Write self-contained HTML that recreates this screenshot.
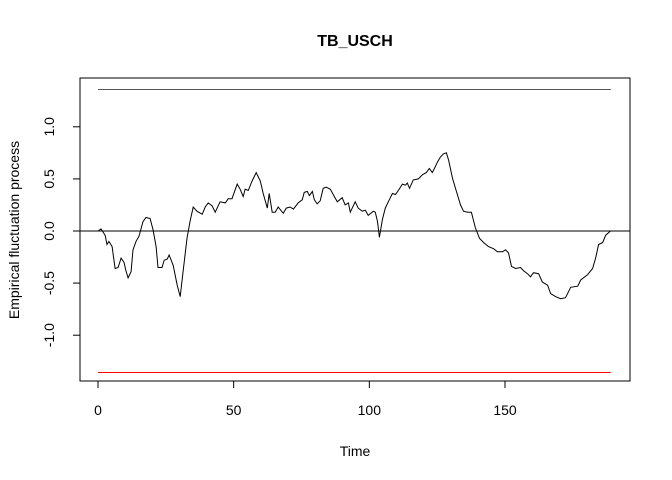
<!DOCTYPE html>
<html><head><meta charset="utf-8"><style>
body{margin:0;background:#fff;}
svg{display:block;font-family:"Liberation Sans",Arial,sans-serif;}
</style></head><body>
<svg id="chart" width="672" height="480" viewBox="0 0 672 480">
<rect width="672" height="480" fill="#fff"/>
<text x="355" y="46" text-anchor="middle" font-weight="bold" font-size="16">TB_USCH</text>
<text x="355" y="456" text-anchor="middle" font-size="14">Time</text>
<text transform="translate(19,230) rotate(-90)" text-anchor="middle" font-size="14">Empirical fluctuation process</text>
<rect x="80" y="78" width="550" height="303" fill="none" stroke="#000" stroke-width="1"/>
<g id="marks"></g>
</svg>
<script>
const xTicks = [0, 50, 100, 150];
const yTicks = [-1.0, -0.5, 0.0, 0.5, 1.0];
const yTickLabels = ["-1.0", "-0.5", "0.0", "0.5", "1.0"];
const boundary = 1.358;
const times = [0,1.1,2.6,3.3,4,5.2,6.3,7.4,8.5,9.6,10.3,11.1,12.2,12.9,14,15.1,16.6,17.7,19.2,20.3,21.4,22.1,23.6,24.4,25.5,26.2,27.7,29.2,30.3,31.4,32.8,33.9,35.1,36.5,38.4,39.5,40.6,42.1,43.2,45,46.9,48,49.4,51.3,52.4,53.5,54.2,55.4,56.8,58.3,59.8,60.9,62.4,63.1,64.2,65.3,66.4,68.3,69.4,70.8,72,73.8,75.3,76,77.1,77.9,79,79.7,80.8,81.9,83,84.1,85.6,86.7,88.2,90,91.1,92.3,93,94.8,95.9,97.4,98.5,99.6,101.5,102.2,103,103.7,104.8,105.9,107,108.5,109.6,110.7,112.2,113.3,114,114.8,116.2,118.1,119.6,121,122.1,123.2,124,125.1,126.2,127.3,128.4,129.2,130.6,132.1,133.6,134.7,136.2,137.6,139.1,140.6,142.1,143.9,145.8,147.2,149.1,150.2,151.3,152.4,153.9,155.7,156.8,158.3,159.4,160.5,162.4,163.8,165.7,166.8,168.6,170.5,172.3,174.2,176.8,177.9,180.4,182.3,183.4,184.5,186,187.1,188.9];
const values = [0,0.02,-0.04,-0.13,-0.10,-0.15,-0.36,-0.35,-0.26,-0.30,-0.38,-0.45,-0.39,-0.18,-0.10,-0.05,0.09,0.13,0.12,0.01,-0.15,-0.35,-0.35,-0.28,-0.27,-0.23,-0.33,-0.52,-0.63,-0.38,-0.07,0.09,0.23,0.19,0.16,0.23,0.27,0.24,0.18,0.28,0.27,0.31,0.31,0.45,0.40,0.33,0.40,0.39,0.48,0.56,0.48,0.36,0.22,0.36,0.18,0.18,0.23,0.17,0.22,0.23,0.21,0.27,0.30,0.37,0.38,0.34,0.38,0.30,0.26,0.29,0.41,0.42,0.40,0.35,0.28,0.32,0.25,0.27,0.18,0.28,0.22,0.19,0.20,0.15,0.19,0.18,0.09,-0.06,0.11,0.22,0.28,0.36,0.35,0.39,0.45,0.44,0.46,0.41,0.49,0.50,0.54,0.56,0.60,0.56,0.60,0.66,0.71,0.74,0.75,0.68,0.51,0.38,0.25,0.19,0.18,0.18,0.03,-0.07,-0.11,-0.15,-0.17,-0.20,-0.20,-0.18,-0.21,-0.34,-0.36,-0.35,-0.38,-0.41,-0.44,-0.40,-0.41,-0.49,-0.52,-0.60,-0.63,-0.65,-0.64,-0.54,-0.53,-0.47,-0.42,-0.36,-0.26,-0.13,-0.11,-0.04,0.00];

const X = t => 98 + t * 2.7133;
const Y = v => 231 - v * 104.2;
const NS = "http://www.w3.org/2000/svg";
const svg = document.getElementById("chart");
function mk(tag, attrs) { const e = document.createElementNS(NS, tag); for (const k in attrs) e.setAttribute(k, attrs[k]); svg.appendChild(e); return e; }

// x axis
let ax = mk("line", {x1: X(xTicks[0]), x2: X(xTicks[xTicks.length-1]), y1: 381, y2: 381, stroke: "#000"});


xTicks.forEach(t => {
  const l = mk("line", {x1: X(t), x2: X(t), y1: 381, y2: 388, stroke: "#000"});
  
  
  const tx = mk("text", {x: X(t), y: 415, "text-anchor": "middle", "font-size": 14});
  tx.textContent = t;
  
  
});
// y axis
let ay = mk("line", {x1: 80, x2: 80, y1: Y(yTicks[0]), y2: Y(yTicks[yTicks.length-1]), stroke: "#000"});


yTicks.forEach((v, i) => {
  const l = mk("line", {x1: 73, x2: 80, y1: Y(v), y2: Y(v), stroke: "#000"});
  
  
  const tx = mk("text", {transform: `translate(54,${Y(v)}) rotate(-90)`, "text-anchor": "middle", "font-size": 14});
  tx.textContent = yTickLabels[i];
  
  
});
// zero line
let z = mk("line", {x1: 80, x2: 630, y1: Y(0), y2: Y(0), stroke: "#000"});


// boundaries
let ub = mk("line", {x1: X(0), x2: X(189), y1: Y(boundary), y2: Y(boundary), stroke: "#555"});


let lb = mk("line", {x1: X(0), x2: X(189), y1: Y(-boundary), y2: Y(-boundary), stroke: "#f00"});


// series
const pts = times.map((t, i) => X(t).toFixed(1) + "," + Y(values[i]).toFixed(1)).join(" ");
let pl = mk("polyline", {points: pts, fill: "none", stroke: "#000", "stroke-width": 1});


</script>
</body></html>
